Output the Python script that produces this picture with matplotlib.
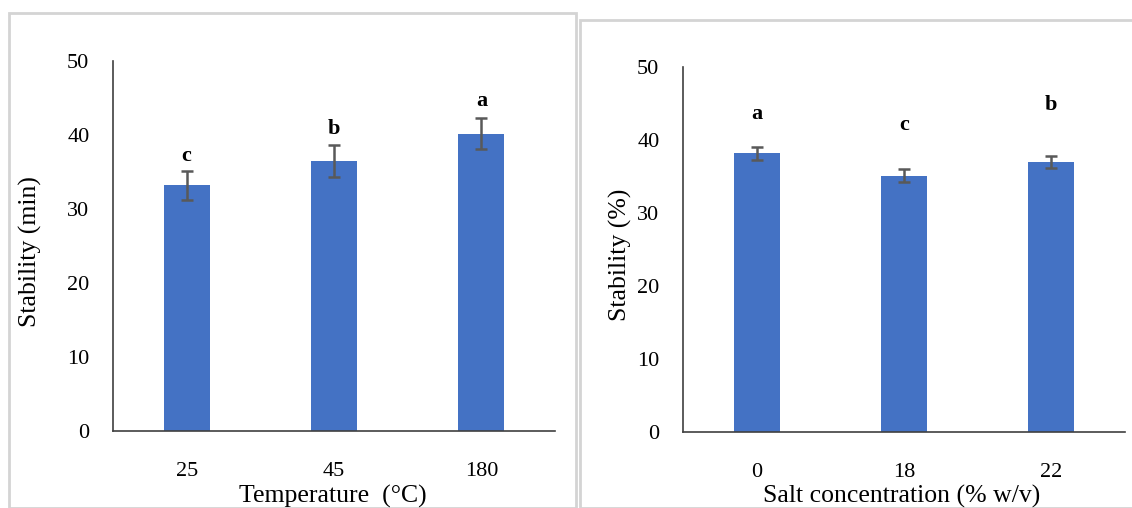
import matplotlib
matplotlib.use("Agg")
import matplotlib.pyplot as plt
from matplotlib.patches import Rectangle

plt.rcParams['font.family'] = ['Liberation Serif', 'DejaVu Serif']

# left panel: temperature
temp_labels = ['25', '45', '180']
temp_stab = [33.2, 36.5, 40.2]
temp_err = [2.0, 2.2, 2.1]
temp_letters = ['c', 'b', 'a']
temp_letter_y = [37.2, 40.8, 44.6]

# right panel: salt
salt_labels = ['0', '18', '22']
salt_stab = [38.2, 35.1, 37.0]
salt_err = [0.9, 0.9, 0.85]
salt_letters = ['a', 'c', 'b']
salt_letter_y = [43.6, 42.1, 44.8]

bar_color = '#4472C4'
err_color = '#595959'
W, H = 1132, 508

fig = plt.figure(figsize=(W / 100, H / 100), dpi=100)

# panel frames
fig.patches.append(Rectangle((9 / W, 0), 567 / W, 495 / H, transform=fig.transFigure,
                             fill=False, edgecolor='#d4d4d4', linewidth=2))
fig.patches.append(Rectangle((580 / W, 0), 560 / W, 488 / H, transform=fig.transFigure,
                             fill=False, edgecolor='#d4d4d4', linewidth=2))

ax1 = fig.add_axes([113 / W, 77 / H, 442 / W, 370 / H])
ax2 = fig.add_axes([683 / W, 76 / H, 442 / W, 365 / H])


def draw(ax, labels, vals, errs, letters, letter_y):
    x = list(range(len(labels)))
    ax.bar(x, vals, width=0.31, color=bar_color, zorder=2)
    ax.errorbar(x, vals, yerr=errs, fmt='none', ecolor=err_color,
                elinewidth=1.8, capsize=4, capthick=1.8, zorder=3)
    for xi, t, yi in zip(x, letters, letter_y):
        ax.text(xi, yi, t, ha='center', va='center', fontsize=16, fontweight='bold')
    ax.set_xlim(-0.5, len(labels) - 0.5)
    ax.set_ylim(0, 50)
    ax.set_yticks([0, 10, 20, 30, 40, 50])
    ax.set_xticks(x)
    ax.set_xticklabels(labels)
    for s in ['top', 'right']:
        ax.spines[s].set_visible(False)
    for s in ['left', 'bottom']:
        ax.spines[s].set_color('#404040')
        ax.spines[s].set_linewidth(1.2)
    ax.tick_params(axis='both', length=0, labelsize=16)
    ax.tick_params(axis='y', pad=17)
    ax.tick_params(axis='x', pad=22)


draw(ax1, temp_labels, temp_stab, temp_err, temp_letters, temp_letter_y)
draw(ax2, salt_labels, salt_stab, salt_err, salt_letters, salt_letter_y)

fig.text(333 / W, 1 - 496 / H, 'Temperature  (°C)', ha='center', va='center', fontsize=18.5)
fig.text(902 / W, 1 - 496 / H, 'Salt concentration (% w/v)', ha='center', va='center', fontsize=18.5)
fig.text(30 / W, 1 - 252 / H, 'Stability (min)', ha='center', va='center', rotation=90, fontsize=18.5)
fig.text(620 / W, 1 - 255 / H, 'Stability (%)', ha='center', va='center', rotation=90, fontsize=18.5)

fig.savefig('out.png', dpi=100)
